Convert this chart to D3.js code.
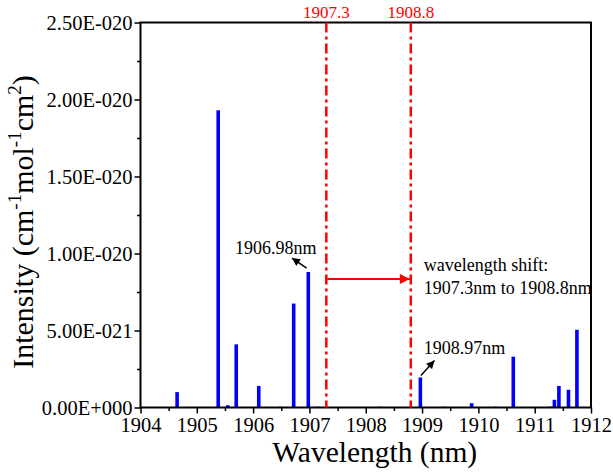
<!DOCTYPE html>
<html>
<head>
<meta charset="utf-8">
<script src="https://cdn.jsdelivr.net/npm/d3@7"></script>
<style>
  body { margin: 0; background: #fff; }
  svg text { font-family: "Liberation Serif", "Times New Roman", serif !important; }
</style>
</head>
<body>
<div id="chart"></div>
<script>
// line positions (nm) and intensities
const wavelengths = [1904.65, 1905.38, 1905.55, 1905.70, 1906.10, 1906.48, 1906.72, 1906.98, 1907.15,
                     1908.25, 1908.97, 1909.40, 1909.88, 1910.30, 1910.62, 1911.28, 1911.35, 1911.43, 1911.60, 1911.75];
const intensities = [1.0e-21, 1.93e-20, 1.5e-22, 4.1e-21, 1.4e-21, 5e-23, 6.75e-21, 8.8e-21, 5e-23,
                     5e-23, 1.95e-21, 5e-23, 2.8e-22, 5e-23, 3.3e-21, 5e-23, 5e-22, 1.4e-21, 1.15e-21, 5.05e-21];

const xTicks = [1904, 1905, 1906, 1907, 1908, 1909, 1910, 1911, 1912];
const yTicks = [0, 5e-21, 1e-20, 1.5e-20, 2e-20, 2.5e-20];
const shiftLines = [1907.3, 1908.8];

const margin = {top: 22.5, right: 22, bottom: 68.5, left: 140.5},
width = 613 - margin.left - margin.right,
height = 476 - margin.top - margin.bottom;

const svg = d3.select("#chart").append("svg")
    .attr("width", 613).attr("height", 476)
  .append("g")
    .attr("transform", `translate(${margin.left},${margin.top})`);

const x = d3.scaleLinear().domain([1904, 1912]).range([0, width]);
const y = d3.scaleLinear().domain([0, 2.5e-20]).range([height, 0]);

// format like 2.50E-020
function sciFmt(v){
    if (v === 0) return "0.00E+000";
    let e = Math.floor(Math.log10(Math.abs(v)) + 1e-9);
    let m = v / Math.pow(10, e);
    let sign = e < 0 ? "-" : "+";
    return m.toFixed(2) + "E" + sign + String(Math.abs(e)).padStart(3, "0");
}

// bars
svg.selectAll("rect.bar")
    .data(wavelengths.map((w, i) => ({w: w, v: intensities[i]})))
    .enter().append("rect")
    .attr("class", "bar")
    .attr("x", d => x(d.w) - 1.8)
    .attr("width", 3.6)
    .attr("y", d => y(d.v))
    .attr("height", d => height - y(d.v))
    .attr("fill", "#0000ff");

// minor ticks
const xMinor = d3.range(1904.5, 1912, 1);
svg.append("g").attr("transform", `translate(0,${height})`)
    .call(d3.axisBottom(x).tickValues(xMinor).tickSize(3.5).tickFormat(""))
    .call(g => g.select(".domain").remove())
    .selectAll("line").attr("stroke-width", 1.5);
const yMinor = d3.range(2.5e-21, 2.5e-20, 5e-21);
svg.append("g")
    .call(d3.axisLeft(y).tickValues(yMinor).tickSize(3.5).tickFormat(""))
    .call(g => g.select(".domain").remove())
    .selectAll("line").attr("stroke-width", 1.5);

// major axes
const xAxis = svg.append("g").attr("transform", `translate(0,${height})`)
    .call(d3.axisBottom(x).tickValues(xTicks).tickSize(6).tickPadding(4).tickFormat(d3.format("d")));
xAxis.selectAll("text").attr("font-size", 20.5).attr("fill", "#000");
xAxis.selectAll("line").attr("stroke-width", 1.5);
xAxis.select(".domain").remove();

const yAxis = svg.append("g")
    .call(d3.axisLeft(y).tickValues(yTicks).tickSize(6).tickPadding(2).tickFormat(sciFmt));
yAxis.selectAll("text").attr("font-size", 20.5).attr("fill", "#000");
yAxis.selectAll("line").attr("stroke-width", 1.5);
yAxis.select(".domain").remove();

// frame
svg.append("rect")
    .attr("x", 0).attr("y", 0).attr("width", width).attr("height", height)
    .attr("fill", "none").attr("stroke", "#000").attr("stroke-width", 2);

// red shift lines and labels
shiftLines.forEach(w => {
    svg.append("line")
        .attr("x1", x(w)).attr("x2", x(w))
        .attr("y1", 0).attr("y2", height)
        .attr("stroke", "#ff0000").attr("stroke-width", 2.5)
        .attr("stroke-dasharray", "10,4,3,4");
    svg.append("text")
        .attr("x", x(w)).attr("y", -4.5)
        .attr("text-anchor", "middle")
        .attr("font-size", 17).attr("fill", "#ff0000")
        .text(w.toFixed(1));
});

// arrow markers
const defs = svg.append("defs");
defs.append("marker").attr("id", "redhead")
    .attr("viewBox", "0 0 10 10").attr("refX", 10).attr("refY", 5)
    .attr("markerWidth", 12).attr("markerHeight", 10).attr("markerUnits", "userSpaceOnUse")
    .attr("orient", "auto")
  .append("path").attr("d", "M0,0L10,5L0,10Z").attr("fill", "#ff0000");
defs.append("marker").attr("id", "blackhead")
    .attr("viewBox", "0 0 10 10").attr("refX", 10).attr("refY", 5)
    .attr("markerWidth", 9).attr("markerHeight", 8).attr("markerUnits", "userSpaceOnUse")
    .attr("orient", "auto")
  .append("path").attr("d", "M0,0L10,5L0,10Z").attr("fill", "#000");

// horizontal shift arrow
const arrowY = y(8.35e-21);
svg.append("line")
    .attr("x1", x(1907.3) + 1).attr("x2", x(1908.8) - 1)
    .attr("y1", arrowY).attr("y2", arrowY)
    .attr("stroke", "#ff0000").attr("stroke-width", 2)
    .attr("marker-end", "url(#redhead)");

svg.append("text").attr("x", x(1909.03)).attr("y", arrowY - 8)
    .attr("font-size", 18).text("wavelength shift:");
svg.append("text").attr("x", x(1909.03)).attr("y", arrowY + 15)
    .attr("font-size", 18).text("1907.3nm to 1908.8nm");

// peak annotations
svg.append("line")
    .attr("x1", x(1906.95)).attr("y1", y(8.85e-21) - 3)
    .attr("x2", x(1906.69)).attr("y2", y(9.7e-21))
    .attr("stroke", "#000").attr("stroke-width", 1.5)
    .attr("marker-end", "url(#blackhead)");
svg.append("text").attr("x", x(1905.68)).attr("y", y(1.0e-20) + 0.5)
    .attr("font-size", 18).text("1906.98nm");

svg.append("line")
    .attr("x1", x(1908.98)).attr("y1", y(1.95e-21) - 2)
    .attr("x2", x(1909.22)).attr("y2", y(3.05e-21))
    .attr("stroke", "#000").attr("stroke-width", 1.5)
    .attr("marker-end", "url(#blackhead)");
svg.append("text").attr("x", x(1909.03)).attr("y", y(3.45e-21))
    .attr("font-size", 18).text("1908.97nm");

// axis titles
svg.append("text")
    .attr("x", width / 2 + 9).attr("y", height + 54.5)
    .attr("text-anchor", "middle").attr("font-size", 29.5)
    .text("Wavelength (nm)");

const yt = svg.append("text")
    .attr("transform", `translate(${-107.5},${height / 2 + 7}) rotate(-90)`)
    .attr("text-anchor", "middle").attr("font-size", 30);
yt.append("tspan").text("Intensity (cm");
yt.append("tspan").attr("font-size", 19).attr("dy", -12).text("-1");
yt.append("tspan").attr("dy", 12).text("mol");
yt.append("tspan").attr("font-size", 19).attr("dy", -12).text("-1");
yt.append("tspan").attr("dy", 12).text("cm");
yt.append("tspan").attr("font-size", 19).attr("dy", -12).text("2");
yt.append("tspan").attr("dy", 12).text(")");
</script>
</body>
</html>
